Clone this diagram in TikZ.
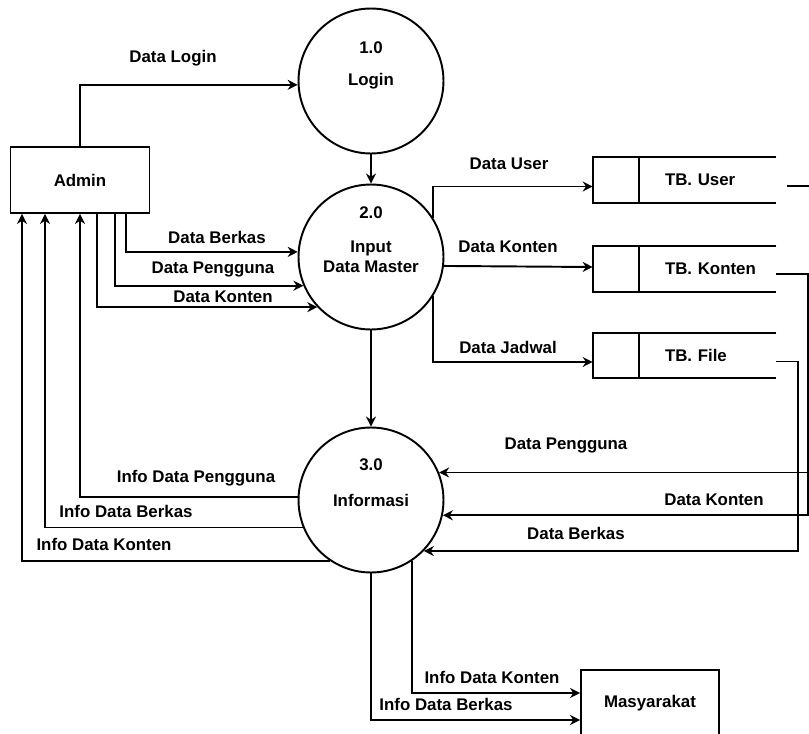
\documentclass[tikz,border=0pt]{standalone}
\usepackage{fontspec}
\setsansfont{Liberation Sans}
\usetikzlibrary{arrows.meta, positioning}

\begin{document}
\begin{tikzpicture}[x=0.02cm, y=-0.02cm,
    every node/.style={font=\sffamily\bfseries\fontsize{9.6}{11.5}\selectfont},
    proc/.style={circle, draw, line width=1.1pt, minimum size=2.9cm, inner sep=0, align=center},
    entity/.style={draw, line width=1.1pt, minimum width=2.78cm, minimum height=1.32cm},
    store/.style={minimum height=0.9cm, inner xsep=0, text width=3.66cm, align=left},
    flow/.style={-{Stealth[length=2mm, width=2mm]}, line width=1.1pt},
    lbl/.style={inner sep=1pt}]
    \fill[white] (0,0) rectangle (809,734);
    \path[use as bounding box] (0,0) rectangle (809,734);
    \clip (0,0) rectangle (809,734);

    \node[proc] (c1) at (371,81) {Login};
    \node[] (n1) at (371,48) {1.0};
    \node[proc] (c2) at (371,257) {Input\\Data Master};
    \node[] (n2) at (371,213) {2.0};
    \node[proc] (c3) at (371,500) {Informasi};
    \node[] (n3) at (371,465) {3.0};

    \node[entity] (admin) at (80,180) {Admin};
    \node[entity, minimum width=2.76cm] (mas) at (650,703) {Masyarakat};

    \node[store] (user) at (684.5,180) {\hspace*{1.44cm}TB. User};
    \node[store] (konten) at (684.5,269) {\hspace*{1.44cm}TB. Konten};
    \node[store] (file) at (684.5,355.5) {\hspace*{1.44cm}TB. File};
    \foreach \s in {user,konten,file}
        \draw[line width=1.1pt] (\s.north east) -- (\s.north west) -- (\s.south west) -- (\s.south east)
            ([xshift=0.92cm]\s.north west) -- ([xshift=0.92cm]\s.south west);

    % admin to processes
    \draw[flow] (admin.north) |- (c1.183);
    \draw[flow] (c1) -- (c2);
    \draw[flow] (c2) -- (c3);
    \draw[flow] ([xshift=0.92cm]admin.south) |- (c2.176);
    \draw[flow] ([xshift=0.7cm]admin.south) |- (c2.203);
    \draw[flow] ([xshift=0.34cm]admin.south) |- (c2.223);

    % process 2 to stores
    \draw[flow] (c2.32) |- ([yshift=-0.13cm]user.west);
    \draw[flow] (c2.-7) -- ([yshift=0.04cm]konten.west);
    \draw[flow] (c2.-32) |- ([yshift=-0.13cm]file.west);

    % stores to process 3
    \draw[flow] ([xshift=0.22cm, yshift=-0.12cm]user.east) -- ++(28,0) |- (c3.22);
    \draw[flow] ([yshift=-0.1cm]konten.east) -- ++(32,0) |- (c3.-12);
    \draw[flow] ([yshift=-0.12cm]file.east) -- ++(22,0) |- (c3.-44);

    % process 3 to admin and masyarakat
    \draw[flow] (c3.178) -| (admin.south);
    \draw[flow] (c3.202) -| ([xshift=-0.7cm]admin.south);
    \draw[flow] (c3.236) -| ([xshift=-1.16cm]admin.south);
    \draw[flow] (c3.-56) |- ([yshift=0.2cm]mas.west);
    \draw[flow] (c3.south) |- ([yshift=-0.34cm]mas.west);

    \node[lbl] (l1) at (173,58) {Data Login};
    \node[lbl] (l2) at (217,237) {Data Berkas};
    \node[lbl] (l3) at (213,269) {Data Pengguna};
    \node[lbl] (l4) at (223,297) {Data Konten};
    \node[lbl] (l5) at (509,164) {Data User};
    \node[lbl] (l6) at (508,247) {Data Konten};
    \node[lbl] (l7) at (508,347) {Data Jadwal};
    \node[lbl] (l8) at (566,445) {Data Pengguna};
    \node[lbl] (l9) at (714,500) {Data Konten};
    \node[lbl] (l10) at (576,533) {Data Berkas};
    \node[lbl] (l11) at (196,478) {Info Data Pengguna};
    \node[lbl] (l12) at (126,511) {Info Data Berkas};
    \node[lbl] (l13) at (104,544) {Info Data Konten};
    \node[lbl] (l14) at (492,677) {Info Data Konten};
    \node[lbl] (l15) at (446,704) {Info Data Berkas};
\end{tikzpicture}
\end{document}
